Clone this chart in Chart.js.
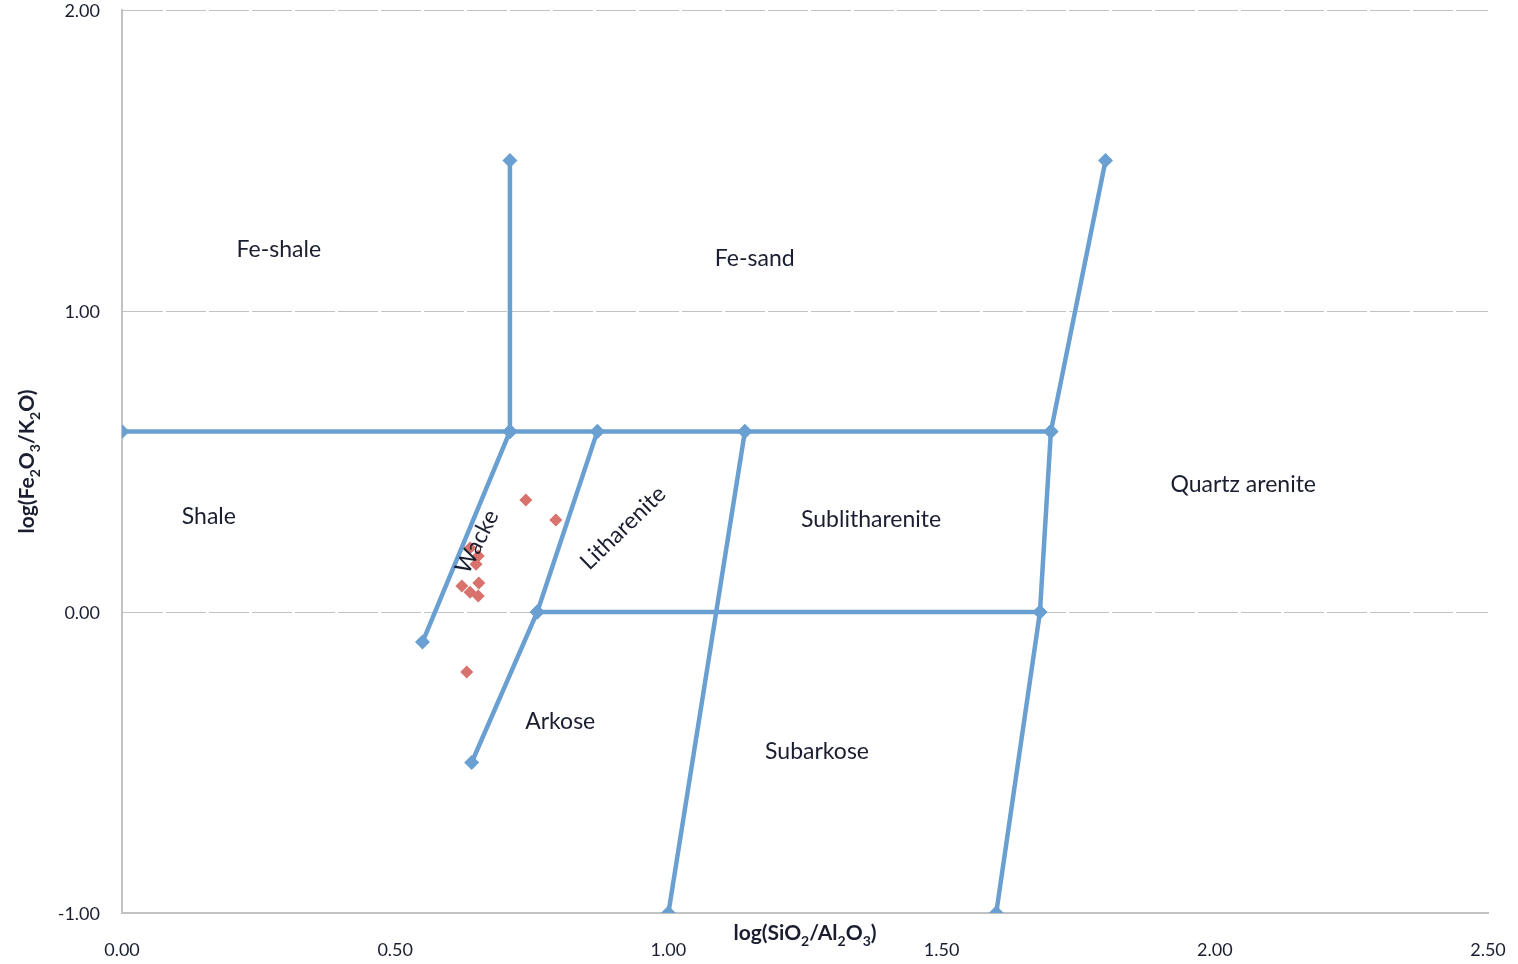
<!DOCTYPE html>
<html>
<head>
<meta charset="utf-8">
<script src="https://cdn.jsdelivr.net/npm/chart.js@4.4.1/dist/chart.umd.min.js"></script>
<style>
  html, body { margin: 0; padding: 0; background: #ffffff; }
  #wrap { position: relative; width: 1518px; height: 964px; }
</style>
</head>
<body>
<div id="wrap"><canvas id="chart"></canvas></div>
<script>
// Herron (1988) classification boundaries: log(SiO2/Al2O3) vs log(Fe2O3/K2O)
const boundaryTop       = [[0, 0.6], [0.71, 0.6], [0.87, 0.6], [1.14, 0.6], [1.70, 0.6]];
const boundaryFeSplit   = [[0.71, 0.6], [0.71, 1.5]];
const boundaryFeSand    = [[1.70, 0.6], [1.80, 1.5]];
const boundaryWacke     = [[0.71, 0.6], [0.55, -0.1]];
const boundaryArkose    = [[0.87, 0.6], [0.76, 0.0], [0.64, -0.5]];
const boundaryMiddle    = [[0.76, 0.0], [1.68, 0.0]];
const boundarySubarkose = [[1.14, 0.6], [1.00, -1.0]];
const boundaryQuartz    = [[1.70, 0.6], [1.68, 0.0], [1.60, -1.0]];

// Sample compositions
const sampleX = [0.739, 0.794, 0.637, 0.652, 0.648, 0.653, 0.622, 0.637, 0.652, 0.631];
const sampleY = [0.372, 0.306, 0.213, 0.186, 0.159, 0.096, 0.086, 0.066, 0.053, -0.199];

// Axis ticks
const xTicks = [0, 0.5, 1.0, 1.5, 2.0, 2.5];
const yTicks = [-1, 0, 1, 2];

// Field names, anchor (data units) and rotation (degrees)
const fieldNames  = ['Fe-shale', 'Fe-sand', 'Shale', 'Wacke', 'Litharenite', 'Sublitharenite', 'Quartz arenite', 'Arkose', 'Subarkose'];
const fieldX      = [0.287, 1.158, 0.159, 0.650, 0.917, 1.371, 2.052, 0.802, 1.272];
const fieldY      = [1.205, 1.175, 0.316, 0.233, 0.279, 0.306, 0.422, -0.365, -0.465];
const fieldAngle  = [0, 0, 0, -63, -44, 0, 0, 0, 0];

const BLUE = '#6a9fd1';
const RED = '#d9726c';
const TEXT = '#1a1e30';
const FONT = 'Lato, "Open Sans", sans-serif';

const toPts = arr => arr.map(p => ({ x: p[0], y: p[1] }));
const boundary = (arr) => ({
  data: toPts(arr),
  showLine: true,
  borderColor: BLUE,
  backgroundColor: BLUE,
  borderWidth: 4.5,
  pointStyle: 'rectRot',
  pointRadius: 7.5,
  pointHoverRadius: 7.5,
  pointBorderWidth: 0,
  tension: 0
});

// Text with subscript runs: parts = [[text, isSub], ...]
function drawRich(ctx, parts, x, y, size) {
  const subSize = Math.round(size * 0.65);
  let total = 0;
  parts.forEach(([t, sub]) => {
    ctx.font = `bold ${sub ? subSize : size}px ${FONT}`;
    total += ctx.measureText(t).width;
  });
  let cx = x - total / 2;
  ctx.textBaseline = 'alphabetic';
  ctx.textAlign = 'left';
  parts.forEach(([t, sub]) => {
    ctx.font = `bold ${sub ? subSize : size}px ${FONT}`;
    ctx.fillText(t, cx, sub ? y + size * 0.28 : y);
    cx += ctx.measureText(t).width;
  });
}

const overlay = {
  id: 'overlay',
  afterDatasetsDraw(chart) {
    const { ctx, scales: { x, y }, chartArea } = chart;
    ctx.save();
    ctx.fillStyle = TEXT;

    // tick labels
    ctx.font = `18px ${FONT}`;
    ctx.textBaseline = 'middle';
    ctx.textAlign = 'right';
    yTicks.forEach(v => ctx.fillText(v.toFixed(2), chartArea.left - 22, y.getPixelForValue(v) + 1));
    ctx.textAlign = 'center';
    xTicks.forEach(v => ctx.fillText(v.toFixed(2), x.getPixelForValue(v), chartArea.bottom + 37));

    // field names
    ctx.font = `23px ${FONT}`;
    ctx.textAlign = 'center';
    ctx.textBaseline = 'middle';
    fieldNames.forEach((name, i) => {
      const px = x.getPixelForValue(fieldX[i]);
      const py = y.getPixelForValue(fieldY[i]);
      ctx.save();
      ctx.translate(px, py);
      ctx.rotate(fieldAngle[i] * Math.PI / 180);
      ctx.fillText(name, 0, 0);
      ctx.restore();
    });

    // axis titles
    drawRich(ctx, [['log(SiO', false], ['2', true], ['/Al', false], ['2', true], ['O', false], ['3', true], [')', false]],
      (chartArea.left + chartArea.right) / 2, 940, 21);
    ctx.save();
    ctx.translate(34, (chartArea.top + chartArea.bottom) / 2);
    ctx.rotate(-Math.PI / 2);
    drawRich(ctx, [['log(Fe', false], ['2', true], ['O', false], ['3', true], ['/K', false], ['2', true], ['O)', false]],
      0, 0, 21);
    ctx.restore();
    ctx.restore();
  }
};

new Chart(document.getElementById('chart'), {
  type: 'scatter',
  data: {
    datasets: [
      boundary(boundaryTop),
      boundary(boundaryFeSplit),
      boundary(boundaryFeSand),
      boundary(boundaryWacke),
      boundary(boundaryArkose),
      boundary(boundaryMiddle),
      boundary(boundarySubarkose),
      boundary(boundaryQuartz),
      {
        data: sampleX.map((v, i) => ({ x: v, y: sampleY[i] })),
        showLine: false,
        backgroundColor: RED,
        borderColor: RED,
        pointStyle: 'rectRot',
        pointRadius: 6.5,
        pointHoverRadius: 6.5,
        pointBorderWidth: 0
      }
    ]
  },
  options: {
    responsive: true,
    maintainAspectRatio: false,
    animation: false,
    events: [],
    layout: { padding: { left: 0, right: 30, top: 10, bottom: 0 } },
    plugins: { legend: { display: false }, tooltip: { enabled: false } },
    scales: {
      x: {
        type: 'linear',
        min: 0, max: 2.5,
        afterBuildTicks: s => { s.ticks = xTicks.map(v => ({ value: v })); },
        afterFit: s => { s.height = 51; },
        grid: { display: false, drawTicks: false },
        border: { display: true, color: '#c2c2c2', width: 2 },
        ticks: { display: false }
      },
      y: {
        type: 'linear',
        min: -1, max: 2,
        afterBuildTicks: s => { s.ticks = yTicks.map(v => ({ value: v })); },
        afterFit: s => { s.width = 122; },
        grid: {
          color: c => c.tick && c.tick.value === -1 ? 'rgba(0,0,0,0)' : '#c2c2c2',
          lineWidth: 1,
          drawTicks: false
        },
        border: { display: true, color: '#c2c2c2', width: 2, dash: [40, 3] },
        ticks: { display: false }
      }
    }
  },
  plugins: [overlay]
});
</script>
</body>
</html>
